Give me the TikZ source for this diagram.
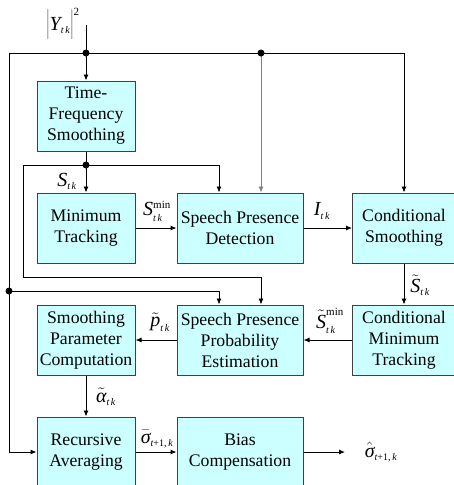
\documentclass[tikz,border=0pt]{standalone}
\usepackage{fontspec}
\setmainfont{Liberation Serif}
\usetikzlibrary{arrows.meta}

\definecolor{boxfill}{HTML}{CCFFFF}
\definecolor{boxline}{HTML}{404040}

% symbol pieces: main letter, italic index, upright index
\newcommand\qv[1]{\mbox{\fontsize{20}{20}\selectfont\itshape #1}}
\newcommand\qs[1]{\mbox{\fontsize{10}{10}\selectfont\itshape #1}}
\newcommand\qm[1]{\mbox{\fontsize{11}{11}\selectfont #1}}
\newcommand\qtk{\qs{t\,k}}
\newcommand\qtpk{\mbox{\fontsize{10}{10}\selectfont\itshape t\upshape +1,\,\itshape k}}

\begin{document}
\begin{tikzpicture}[x=1pt,y=-1pt,
  blk/.style={draw=boxline, line width=1pt, fill=boxfill, align=center,
    minimum height=70pt, inner sep=0pt, font=\fontsize{17.7}{21}\selectfont},
  wire/.style={line width=0.9pt, draw=black},
  feed/.style={wire, -{Latex[length=6pt,width=5pt]}},
  lab/.style={inner sep=0pt, font=\fontsize{20}{24}\selectfont},
  dot/.style={fill=black}]

\useasboundingbox (0,0) rectangle (454,485);
\clip (0,0) rectangle (454,485);

% processing blocks
\node[blk, minimum width=98pt]  (tfs)  at (86,116)  {Time-\\Frequency\\Smoothing};
\node[blk, minimum width=98pt]  (mt)   at (86,228)  {Minimum\\Tracking};
\node[blk, minimum width=126pt] (spd)  at (240,228) {Speech Presence\\Detection};
\node[blk, minimum width=103pt] (cs)   at (404,228) {Conditional\\Smoothing};
\node[blk, minimum width=98pt]  (spc)  at (86,340)  {Smoothing\\Parameter\\Computation};
\node[blk, minimum width=126pt] (sppe) at (240,340) {Speech Presence\\Probability\\Estimation};
\node[blk, minimum width=103pt] (cmt)  at (404,340) {Conditional\\Minimum\\Tracking};
\node[blk, minimum width=98pt]  (ra)   at (86,452)  {Recursive\\Averaging};
\node[blk, minimum width=126pt] (bc)   at (240,452) {Bias\\Compensation};

% junctions and bends
\coordinate (yin)   at (86,25);
\coordinate (jy)    at (86,53);
\coordinate (jl)    at (9,53);
\coordinate (jg)    at (261,53);
\coordinate (jr)    at (404,53);
\coordinate (jlow)  at (9,291);
\coordinate (js)    at (86,165);
\coordinate (jsl)   at (23,165);
\coordinate (jbend) at (23,277);
\coordinate (xa)    at (219,0);
\coordinate (out)   at (345,452);

% input power spectrum distribution
\draw[feed] (yin) -- (tfs.north);
\draw[wire] (jl) -- (jr);
\draw[feed] (jr) -- (cs.north);
\draw[feed, draw=black!50] (jg) -- (jg |- spd.north);
\draw[feed] (jl) |- (ra.west);
\draw[feed] (jlow) -| (xa |- sppe.north);

% smoothed spectrum distribution
\draw[feed] (tfs.south) -- (mt.north);
\draw[feed] (js) -| (xa |- spd.north);
\draw[feed] (js) -- (jsl) -- (jbend) -| (jg |- sppe.north);

% main chain
\draw[feed] (mt.east) -- (spd.west);
\draw[feed] (spd.east) -- (cs.west);
\draw[feed] (cs.south) -- (cmt.north);
\draw[feed] (cmt.west) -- (sppe.east);
\draw[feed] (sppe.west) -- (spc.east);
\draw[feed] (spc.south) -- (ra.north);
\draw[feed] (ra.east) -- (bc.west);
\draw[feed] (bc.east) -- (out);

% junction dots
\fill[dot] (jy) circle (3.5pt);
\fill[dot] (jg) circle (3.5pt);
\fill[dot] (js) circle (3.5pt);
\fill[dot] (jlow) circle (3.5pt);

% signal labels
\node[lab] (lY)  at (63,24)   {$\left|\rule[-8pt]{0pt}{28pt}\qv{Y}_{\qtk}\right|^{\qm{2}}$};
\node[lab] (lS)  at (67,181)  {$\qv{S}_{\qtk}$};
\node[lab] (lSm) at (157,211) {$\qv{S}_{\qtk}^{\qm{min}}$};
\node[lab] (lI)  at (322,211) {$\qv{I}_{\qtk}$};
\node[lab] (lSt) at (420,285) {$\tilde{\qv{S}}_{\qtk}$};
\node[lab] (lSmt) at (330,321) {$\tilde{\qv{S}}_{\qtk}^{\qm{min}}$};
\node[lab] (lp)  at (160,322) {$\tilde{\qv{p}}_{\qtk}$};
\node[lab] (la)  at (106,397) {$\tilde{\qv{α}}_{\qtk}$};
\node[lab] (lsb) at (157,439) {$\bar{\qv{σ}}_{\qtpk}$};
\node[lab] (lsh) at (381,452) {$\hat{\qv{σ}}_{\qtpk}$};
\end{tikzpicture}
\end{document}
